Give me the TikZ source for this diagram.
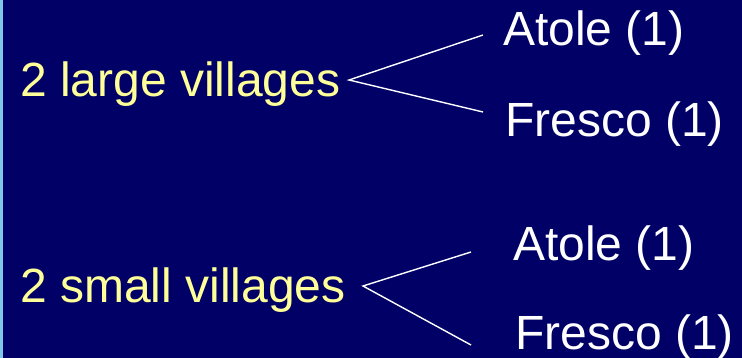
\documentclass[tikz,border=0pt]{standalone}
\usepackage{fontspec}
\setmainfont{Liberation Sans}
\definecolor{bg}{HTML}{000066}
\definecolor{ylw}{HTML}{FFFF99}
\definecolor{edge}{HTML}{7FC8E8}
\begin{document}
\begin{tikzpicture}[x=1pt,y=-1pt,
  lbl/.style={anchor=base west,inner sep=0pt,font=\fontsize{48}{50}\selectfont},
  cat/.style={lbl,text=ylw},
  leaf/.style={lbl,text=white},
  branch/.style={draw=white,line width=1.4pt}]
\fill[bg] (0,0) rectangle (742,358);
\fill[edge] (0,0) rectangle (3,358);
\useasboundingbox (0,0) rectangle (742,358);
\node[cat] (large) at (20,97) {2 large villages};
\node[cat] (small) at (20,302) {2 small villages};
\node[leaf] (a1) at (503,46) {Atole (1)};
\node[leaf] (f1) at (505,137) {Fresco (1)};
\node[leaf] (a2) at (513,261) {Atole (1)};
\node[leaf] (f2) at (515,349) {Fresco (1)};
\coordinate (p1) at (349,80);
\coordinate (p1a) at (483,35);
\coordinate (p1f) at (483,112);
\coordinate (p2) at (363,286);
\coordinate (p2a) at (471,252);
\coordinate (p2f) at (471,345);
\draw[branch] (p1a) -- (p1) -- (p1f);
\draw[branch] (p2a) -- (p2) -- (p2f);
\end{tikzpicture}
\end{document}
